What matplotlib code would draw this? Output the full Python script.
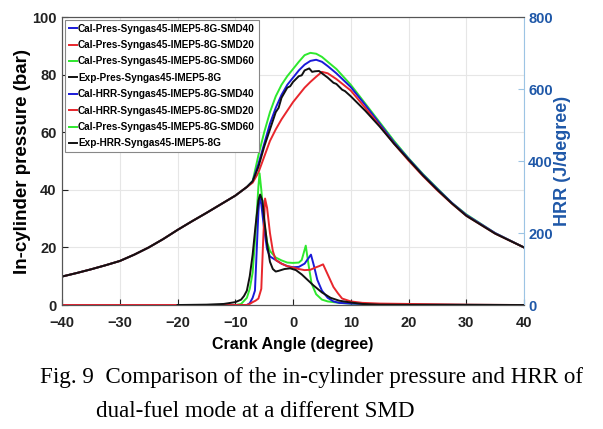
import matplotlib
matplotlib.use("Agg")
import matplotlib.pyplot as plt

# ---- pressure (bar) ----
ca_p = [-40, -37.5, -35, -32.5, -30, -27.5, -25, -22.5, -20, -17.5, -15, -12.5, -10, -8, -7]
p_comp = [9.9, 11.1, 12.4, 13.8, 15.3, 17.5, 20.0, 22.9, 26.1, 29.1, 32.0, 35.0, 38.0, 41.0, 43.0]

ca_p_smd40 = [-6, -5, -4, -3, -2, -1, 0, 1, 2, 3, 4, 5, 6, 7.5,
              10, 12.5, 15, 17.5, 20, 22.5, 25, 27.5, 30, 35, 40]
p_smd40 = [49.0, 56.0, 63.0, 68.5, 73.0, 76.5, 79.0, 81.5, 83.5, 84.8, 85.2, 84.5, 83.0, 80.5,
           75.7, 69.5, 63.0, 56.5, 50.8, 45.3, 40.3, 35.5, 31.3, 25.0, 20.0]

ca_p_smd20 = [-6, -5, -4, -3, -2, -1, 0, 1, 2, 3, 4, 5, 6, 7.5,
              10, 12.5, 15, 17.5, 20, 22.5, 25, 27.5, 30, 35, 40]
p_smd20 = [46.0, 51.5, 57.0, 61.0, 64.5, 67.5, 70.5, 73.0, 75.5, 77.5, 79.3, 81.0, 80.5, 78.5,
           74.5, 68.5, 62.3, 56.0, 50.2, 44.8, 39.8, 35.2, 31.0, 24.8, 20.0]

ca_p_smd60 = [-6, -5, -4, -3, -2, -1, 0, 1, 2, 3, 4, 5, 6, 7.5,
              10, 12.5, 15, 17.5, 20, 22.5, 25, 27.5, 30, 35, 40]
p_smd60 = [52.0, 60.0, 67.0, 72.5, 76.5, 79.5, 82.0, 84.5, 86.8, 87.6, 87.3, 86.2, 84.5, 82.0,
           76.5, 70.0, 63.5, 57.0, 51.0, 45.5, 40.5, 35.5, 31.5, 25.0, 20.0]

ca_p_exp = [-6, -5, -4, -3, -2.5, -2, -1, -0.5, 0, 1, 1.5, 2, 2.8, 3.3, 3.8, 4.5, 5, 6, 7, 7.5, 8.5, 9,
            10, 11, 12.5, 15, 17.5, 20, 22.5, 25, 27.5, 30, 35, 40]
p_exp = [48.0, 55.0, 61.0, 67.0, 68.5, 72.0, 75.5, 76.0, 77.5, 79.5, 79.8, 81.5, 82.2, 81.0, 81.2, 81.3,
         80.5, 79.0, 77.2, 76.8, 74.8, 74.3, 72.5, 70.5, 67.5, 62.0, 56.0, 50.5, 45.0, 40.0, 35.3, 31.0,
         24.8, 20.0]

# ---- heat release rate (J/degree) ----
ca_h_smd40 = [-40, -8, -7.5, -7, -6.6, -6.3, -6, -5.8, -5.5, -5, -4.5, -4, -3, -2, -1, 0, 1, 2, 3.1, 3.6, 4.2,
              5, 6, 7, 8, 10, 15, 20, 40]
h_smd40 = [0, 0, 5, 20, 40, 150, 260, 300, 280, 210, 155, 135, 125, 115, 108, 105, 106, 115, 140, 110, 70,
           40, 20, 10, 6, 4, 2, 1, 0]

ca_h_smd20 = [-40, -8, -7.5, -7, -6.5, -6, -5.5, -5.2, -4.85, -4.5, -4, -3.5, -3, -2, -1, 0, 1, 2, 3, 4, 4.5,
              5.2, 6, 7, 7.8, 8.5, 10, 12, 15, 20, 25, 30, 40]
h_smd20 = [0, 0, 3, 8, 12, 18, 45, 170, 296, 270, 200, 150, 125, 115, 108, 104, 100, 97, 98, 105, 108, 113, 85,
           50, 32, 18, 10, 6, 4, 3, 2, 1, 0]

ca_h_smd60 = [-40, -10, -9, -8, -7.5, -7, -6.5, -6, -5.8, -5.5, -5, -4.5, -4, -3, -2, -1, 0, 1, 1.5, 2.2, 2.7,
              3.2, 4, 5, 6, 8, 10, 15, 20, 30, 40]
h_smd60 = [0, 0, 3, 20, 45, 90, 200, 330, 366, 320, 230, 175, 150, 132, 124, 118, 117, 118, 125, 165, 110, 60,
           30, 15, 10, 6, 4, 2, 1, 0.5, 0]

ca_h_exp = [-20, -15, -12, -10, -9, -8.5, -8, -7.5, -7, -6.5, -6, -5.7, -5.3, -5, -4.5, -4, -3.5, -3, -2.5,
            -1.5, -0.5, 0.5, 1.5, 2.5, 3.5, 5, 6.5, 8, 10, 12, 15, 20, 40]
h_exp = [0, 1, 3, 8, 15, 25, 40, 80, 140, 220, 290, 307, 290, 240, 170, 120, 100, 93, 95, 100, 102, 97, 85, 70,
         55, 35, 20, 12, 7, 3, 1, 0.5, 0]

labels = ["Cal-Pres-Syngas45-IMEP5-8G-SMD40", "Cal-Pres-Syngas45-IMEP5-8G-SMD20",
          "Cal-Pres-Syngas45-IMEP5-8G-SMD60", "Exp-Pres-Syngas45-IMEP5-8G",
          "Cal-HRR-Syngas45-IMEP5-8G-SMD40", "Cal-HRR-Syngas45-IMEP5-8G-SMD20",
          "Cal-Pres-Syngas45-IMEP5-8G-SMD60", "Exp-HRR-Syngas45-IMEP5-8G"]

c_blue = "#1a1ad8"
c_red = "#e8262c"
c_green = "#2ee82e"
c_black = "#111111"
c_axis_blue = "#1f58a8"

plt.rcParams["font.family"] = ["Liberation Sans Narrow", "Liberation Sans", "DejaVu Sans"]
plt.rcParams["font.weight"] = "bold"

fig = plt.figure(figsize=(6.03, 4.29), dpi=100)
ax = fig.add_axes([0.103, 0.289, 0.766, 0.671])
ax2 = ax.twinx()

lw = 1.4
h_g, = ax.plot(ca_p + ca_p_smd60, p_comp + p_smd60, color=c_green, lw=lw)
h_b, = ax.plot(ca_p + ca_p_smd40, p_comp + p_smd40, color=c_blue, lw=lw)
h_r, = ax.plot(ca_p + ca_p_smd20, p_comp[:-1] + [42.5] + p_smd20, color=c_red, lw=lw)
h_k, = ax.plot(ca_p + ca_p_exp, p_comp + p_exp, color=c_black, lw=lw)

k_g, = ax2.plot(ca_h_smd60, h_smd60, color=c_green, lw=lw)
k_b, = ax2.plot(ca_h_smd40, h_smd40, color=c_blue, lw=lw)
k_r, = ax2.plot(ca_h_smd20, h_smd20, color=c_red, lw=lw)
k_k, = ax2.plot(ca_h_exp, h_exp, color=c_black, lw=lw)

ax.set_xlim(-40, 40)
ax.set_ylim(0, 100)
ax2.set_ylim(0, 800)
ax.set_xticks(range(-40, 41, 10))
ax.set_yticks(range(0, 101, 20))
ax2.set_yticks(range(0, 801, 200))
ax.grid(True, color="#e6e6e6", lw=0.8)
ax.set_axisbelow(True)

ax.tick_params(direction="in", labelsize=10.5, length=4, colors="#222222", pad=4)
ax.tick_params(axis="x", pad=8)
ax2.tick_params(direction="in", labelsize=10.5, length=4, colors="#9cc4e4", labelcolor=c_axis_blue, pad=3)
for t in ax.get_xticklabels() + ax.get_yticklabels() + ax2.get_yticklabels():
    t.set_fontweight("bold")

for s in ["left", "bottom", "top"]:
    ax.spines[s].set_color("#555555")
    ax2.spines[s].set_color("#555555")
ax2.spines["right"].set_color("#9cc4e4")
ax.spines["right"].set_visible(False)

ax.set_xlabel("Crank Angle (degree)", fontsize=11.5, fontweight="bold", labelpad=5)
ax.set_ylabel("In-cylinder pressure (bar)", fontsize=13.5, fontweight="bold", labelpad=1)
ax2.set_ylabel("HRR (J/degree)", fontsize=13, fontweight="bold", color=c_axis_blue, labelpad=1)

leg = ax2.legend([h_b, h_r, h_g, h_k, k_b, k_r, k_g, k_k], labels, loc="upper left",
                 prop={"size": 7.2, "weight": "bold"}, handlelength=0.8, handletextpad=0.15,
                 labelspacing=0.64, borderpad=0.4, borderaxespad=0.25, fancybox=False,
                 edgecolor="#888888", framealpha=1)
leg.get_frame().set_linewidth(0.8)

fig.text(40 / 603, 1 - 383 / 429, "Fig. 9  Comparison of the in-cylinder pressure and HRR of",
         family=["Liberation Serif"], fontsize=16.6, fontweight="normal", va="baseline")
fig.text(96 / 603, 1 - 417 / 429, "dual-fuel mode at a different SMD",
         family=["Liberation Serif"], fontsize=16.6, fontweight="normal", va="baseline")

fig.savefig("out.png", dpi=100)
